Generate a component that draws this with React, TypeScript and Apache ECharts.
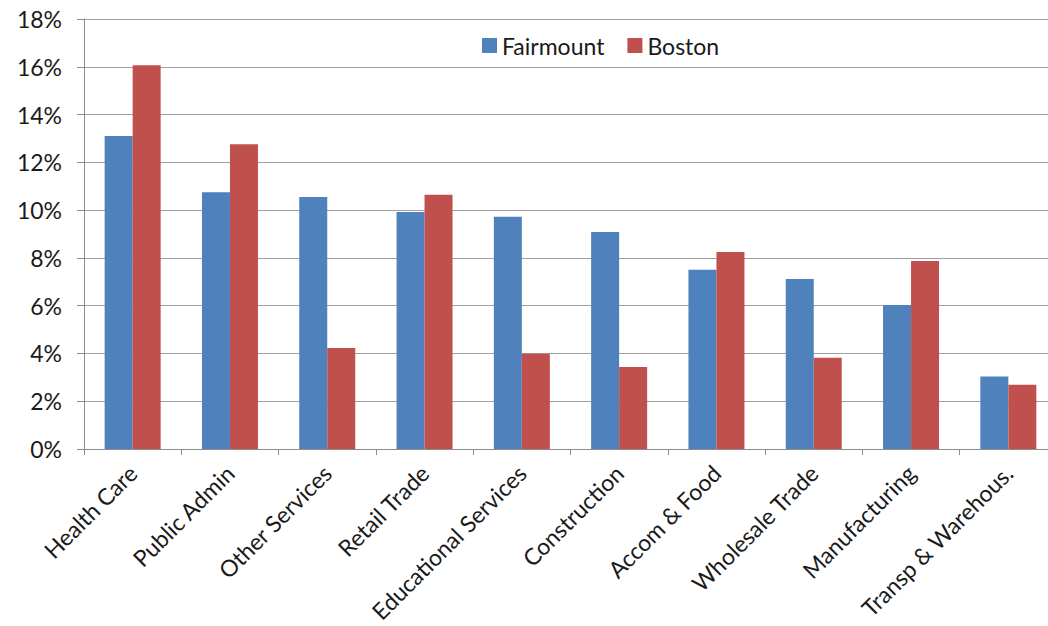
import React, { useEffect, useRef } from "react";
import * as echarts from "echarts";

const categories = [
  "Health Care",
  "Public Admin",
  "Other Services",
  "Retail Trade",
  "Educational Services",
  "Construction",
  "Accom & Food",
  "Wholesale Trade",
  "Manufacturing",
  "Transp & Warehous.",
];

const fairmount = [13.1, 10.75, 10.55, 9.92, 9.72, 9.08, 7.5, 7.12, 6.03, 3.04];
const boston = [16.06, 12.76, 4.23, 10.64, 3.99, 3.43, 8.25, 3.82, 7.87, 2.69];

const seriesNames = ["Fairmount", "Boston"];
const seriesColors = ["#4F81BD", "#C0504D"];

const FONT = "Lato, 'Open Sans', sans-serif";

export default function App() {
  const ref = useRef<HTMLDivElement>(null);

  useEffect(() => {
    if (!ref.current) return;
    const chart = echarts.init(ref.current, undefined, { renderer: "svg" });
    chart.setOption({
      animation: false,
      backgroundColor: "#ffffff",
      textStyle: { fontFamily: FONT },
      legend: {
        top: 29,
        left: 477,
        itemWidth: 15,
        itemHeight: 15,
        itemGap: 23,
        icon: "rect",
        textStyle: { fontSize: 23, color: "#1a1a1a", fontFamily: FONT },
        data: seriesNames,
      },
      grid: {
        left: 84,
        top: 19,
        bottom: 177,
        right: -9,
        outerBoundsMode: "none",
      },
      xAxis: {
        type: "category",
        data: categories,
        axisLine: { lineStyle: { color: "#8c8c8c", width: 1 } },
        axisTick: {
          show: true,
          alignWithLabel: false,
          length: 6,
          lineStyle: { color: "#8c8c8c" },
        },
        axisLabel: {
          rotate: 45,
          interval: 0,
          margin: 20,
          fontSize: 23,
          color: "#1a1a1a",
          fontFamily: FONT,
        },
      },
      yAxis: {
        type: "value",
        min: 0,
        max: 18,
        interval: 2,
        axisLine: { show: true, lineStyle: { color: "#8c8c8c", width: 1 } },
        axisTick: { show: true, length: 7, lineStyle: { color: "#8c8c8c" } },
        splitLine: { lineStyle: { color: "#a0a0a0", width: 1 } },
        axisLabel: {
          formatter: "{value}%",
          fontSize: 23,
          margin: 22,
          color: "#1a1a1a",
          fontFamily: FONT,
        },
      },
      series: seriesNames.map((name, i) => ({
        name,
        type: "bar",
        data: i === 0 ? fairmount : boston,
        barWidth: 28,
        barGap: "0%",
        itemStyle: { color: seriesColors[i] },
      })),
    });
    return () => chart.dispose();
  }, []);

  return (
    <div
      ref={ref}
      style={{ position: "absolute", left: 0, top: 0, width: 1048, height: 626 }}
    />
  );
}
